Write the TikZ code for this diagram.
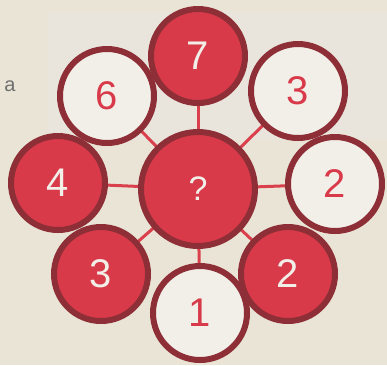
\documentclass[tikz,border=0pt]{standalone}
\usepackage{fontspec}
\setmainfont{Liberation Sans}
\usetikzlibrary{backgrounds}
\definecolor{bg}{HTML}{EAE4D6}
\definecolor{bglight}{HTML}{E9E5DD}
\definecolor{rim}{HTML}{8E2F37}
\definecolor{redfill}{HTML}{D83A4A}
\definecolor{whitefill}{HTML}{F2EEE8}
\definecolor{conncol}{HTML}{D9404C}
\definecolor{labgray}{HTML}{6E6E6E}
\tikzset{
  x=1pt, y=-1pt,
  disc/.style={circle, draw=rim, line width=6pt, minimum size=94pt, inner sep=0pt,
    font=\fontsize{40}{40}\selectfont},
  reddisc/.style={disc, fill=redfill, text=whitefill},
  whitedisc/.style={disc, fill=whitefill, text=redfill},
  hub/.style={reddisc, minimum size=114pt, font=\fontsize{34}{34}\selectfont},
  conn/.style={draw=conncol, line width=3pt},
  tag/.style={text=labgray, font=\fontsize{20}{20}\selectfont, inner sep=0pt}
}
\begin{document}
\begin{tikzpicture}
\begin{scope}[on background layer]
\fill[bg] (0,0) rectangle (387,365);
\fill[bglight] (48,12) rectangle (387,140);
\end{scope}
\useasboundingbox (0,0) rectangle (387,365);
\node[tag] (a) at (10,86) {a};
\node[hub] (c) at (198,189) {?};
\node[reddisc] (n7) at (198,56) {7};
\node[whitedisc] (n6) at (107,96) {6};
\node[whitedisc] (n3a) at (298,91) {3};
\node[reddisc] (n4) at (58,183) {4};
\node[whitedisc] (n2a) at (335,184) {2};
\node[reddisc] (n3b) at (101,274) {3};
\node[reddisc] (n2b) at (288,274) {2};
\node[whitedisc] (n1) at (200,313) {1};
\begin{scope}[on background layer]
\foreach \n in {n7,n6,n3a,n4,n2a,n3b,n2b,n1}
  \draw[conn] (c.center) -- (\n.center);
\end{scope}
\end{tikzpicture}
\end{document}
